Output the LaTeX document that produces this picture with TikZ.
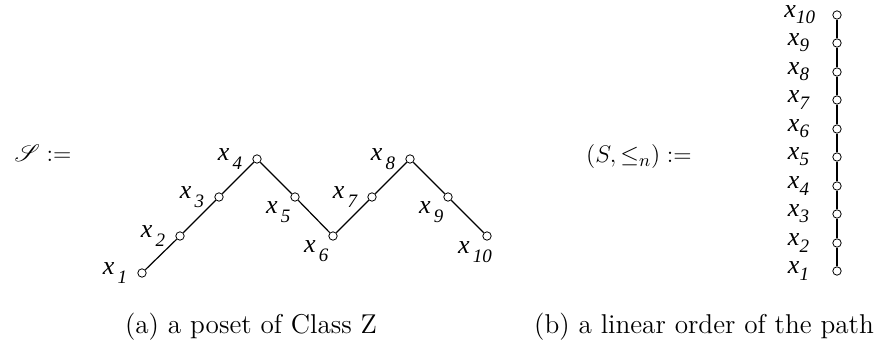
\documentclass[tikz,border=0pt]{standalone}
\usepackage{fontspec}
\usepackage{mathrsfs}
\newfontfamily\labfont{Liberation Serif}[ItalicFont={Liberation Serif Italic}]
% labels of the two pictures
\newcommand{\zx}[1]{{\labfont\itshape x}\raisebox{-0.8ex}{\fontsize{9.5}{10}\labfont\itshape\,#1}}
\newcommand{\cx}[1]{{\labfont\itshape x}\raisebox{-0.55ex}{\fontsize{9.5}{10}\labfont\itshape #1}}
\begin{document}
\begin{tikzpicture}[x=0.5pt,y=-0.5pt,
  pt/.style={circle,draw,thin,fill=white,inner sep=0pt,minimum size=4.2pt},
  lab/.style={font=\fontsize{13}{15}\selectfont,inner sep=0.5pt},
  zlab/.style={lab,label distance=4.5pt},
  clab/.style={lab,label distance=11pt},
  captext/.style={font=\fontsize{13.6}{16}\selectfont},
  edge/.style={semithick}]
  \useasboundingbox (0,0) rectangle (883,341);
  % (a) the poset of Class Z
  \node[font=\fontsize{12.5}{15}\selectfont] (defz) at (43,153) {$\mathscr{S}:=$};
  \node[pt,label={[zlab]left:\zx{1}}] (z1) at (142,273) {};
  \node[pt,label={[zlab]left:\zx{2}}] (z2) at (180,236) {};
  \node[pt,label={[zlab]left:\zx{3}}] (z3) at (219,197) {};
  \node[pt,label={[zlab]left:\zx{4}}] (z4) at (257,159) {};
  \node[pt,label={[lab,label distance=0pt]below left:\zx{5}}] (z5) at (295,197) {};
  \node[pt,label={[lab,label distance=0pt]below left:\zx{6}}] (z6) at (333,236) {};
  \node[pt,label={[zlab]left:\zx{7}}] (z7) at (372,197) {};
  \node[pt,label={[zlab]left:\zx{8}}] (z8) at (410,159) {};
  \node[pt,label={[lab,label distance=0pt]below left:\zx{9}}] (z9) at (448,197) {};
  \node[pt,label={[lab,label distance=0pt,xshift=-6pt]below:\zx{10}}] (z10) at (487,236) {};
  \draw[edge] (z1) -- (z2) -- (z3) -- (z4) -- (z5) -- (z6) -- (z7) -- (z8) -- (z9) -- (z10);
  \node[captext] (capa) at (251,327) {(a) a poset of Class Z};
  % (b) the linear order
  \node[font=\fontsize{13}{15}\selectfont] (defs) at (639,157) {$(S,\leq_n):=$};
  \node[pt,label={[clab]left:\cx{1}}] (c1) at (837,271) {};
  \node[pt,label={[clab]left:\cx{2}}] (c2) at (837,243) {};
  \node[pt,label={[clab]left:\cx{3}}] (c3) at (837,214) {};
  \node[pt,label={[clab]left:\cx{4}}] (c4) at (837,186) {};
  \node[pt,label={[clab]left:\cx{5}}] (c5) at (837,157) {};
  \node[pt,label={[clab]left:\cx{6}}] (c6) at (837,129) {};
  \node[pt,label={[clab]left:\cx{7}}] (c7) at (837,100) {};
  \node[pt,label={[clab]left:\cx{8}}] (c8) at (837,72) {};
  \node[pt,label={[clab]left:\cx{9}}] (c9) at (837,43) {};
  \node[pt,label={[clab,label distance=8pt]left:\cx{10}}] (c10) at (837,15) {};
  \draw[edge] (c1) -- (c2) -- (c3) -- (c4) -- (c5) -- (c6) -- (c7) -- (c8) -- (c9) -- (c10);
  \node[captext] (capb) at (704,327) {(b) a linear order of the path};
\end{tikzpicture}
\end{document}
